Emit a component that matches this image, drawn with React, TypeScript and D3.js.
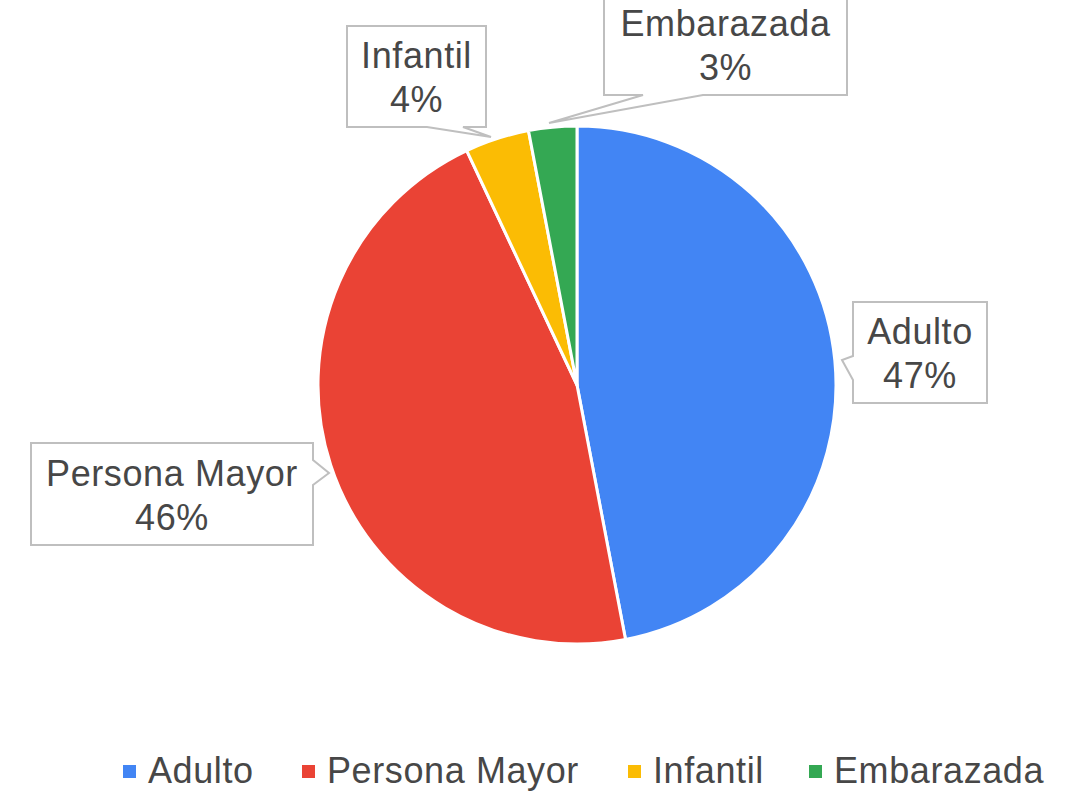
import React from "react";
import * as d3 from "d3";

const categories = ["Adulto", "Persona Mayor", "Infantil", "Embarazada"];
const values = [47, 46, 4, 3];
const colors = ["#4285f4", "#ea4335", "#fbbc04", "#34a853"];

// callout layout (box + tail triangle)
const callouts = [
  { x0: 853, y0: 302, x1: 987, y1: 403, tail: "left", b0: 356, b1: 380, tip: [842, 360] },
  { x0: 31, y0: 443, x1: 313, y1: 545, tail: "right", b0: 460, b1: 485, tip: [329, 473] },
  { x0: 347, y0: 26, x1: 486, y1: 127, tail: "bottom", b0: 427, b1: 463, tip: [491, 137] },
  { x0: 604, y0: -48, x1: 847, y1: 95, tail: "bottom", b0: 643, b1: 703, tip: [549, 123] },
];

const legendX = [123, 302, 628, 809];

function calloutPath(c: any) {
  const [tx, ty] = c.tip;
  if (c.tail === "left") {
    return `M${c.x0},${c.y0}H${c.x1}V${c.y1}H${c.x0}V${c.b1}L${tx},${ty}L${c.x0},${c.b0}Z`;
  }
  if (c.tail === "right") {
    return `M${c.x0},${c.y0}H${c.x1}V${c.b0}L${tx},${ty}L${c.x1},${c.b1}V${c.y1}H${c.x0}Z`;
  }
  return `M${c.x0},${c.y0}H${c.x1}V${c.y1}H${c.b1}L${tx},${ty}L${c.b0},${c.y1}H${c.x0}Z`;
}

export default function App() {
  const W = 1073, H = 792;
  const cx = 577, cy = 385, r = 259;
  const pie = d3.pie<number>().sort(null).value((d) => d)(values);
  const arc = d3.arc<d3.PieArcDatum<number>>().innerRadius(0).outerRadius(r);
  const total = d3.sum(values);
  const font = "'Liberation Sans', Arial, sans-serif";
  const textColor = "#474747";
  return (
    <svg width={W} height={H} style={{ position: "absolute", left: 0, top: 0, background: "#fff" }}>
      <rect width={W} height={H} fill="#fff" />
      <g transform={`translate(${cx},${cy})`}>
        {pie.map((p, i) => (
          <path key={i} d={arc(p) || ""} fill={colors[i]} stroke="#fff" strokeWidth={3} strokeLinejoin="round" />
        ))}
      </g>
      {callouts.map((c, i) => {
        const mx = (c.x0 + c.x1) / 2;
        const lastBase = c.y1 - 15;
        return (
          <g key={i}>
            <path d={calloutPath(c)} fill="#fff" stroke="#bfbfbf" strokeWidth={2} />
            <text x={mx} y={lastBase - 44} textAnchor="middle" fontFamily={font} fontSize={36} letterSpacing={0.6} fill={textColor}>
              {categories[i]}
            </text>
            <text x={mx} y={lastBase} textAnchor="middle" fontFamily={font} fontSize={36} letterSpacing={0.6} fill={textColor}>
              {Math.round((values[i] / total) * 100) + "%"}
            </text>
          </g>
        );
      })}
      {categories.map((c, i) => (
        <g key={c}>
          <rect x={legendX[i]} y={765} width={13} height={13} fill={colors[i]} />
          <text x={legendX[i] + 25} y={783} fontFamily={font} fontSize={36} letterSpacing={0.6} fill={textColor}>
            {c}
          </text>
        </g>
      ))}
    </svg>
  );
}
